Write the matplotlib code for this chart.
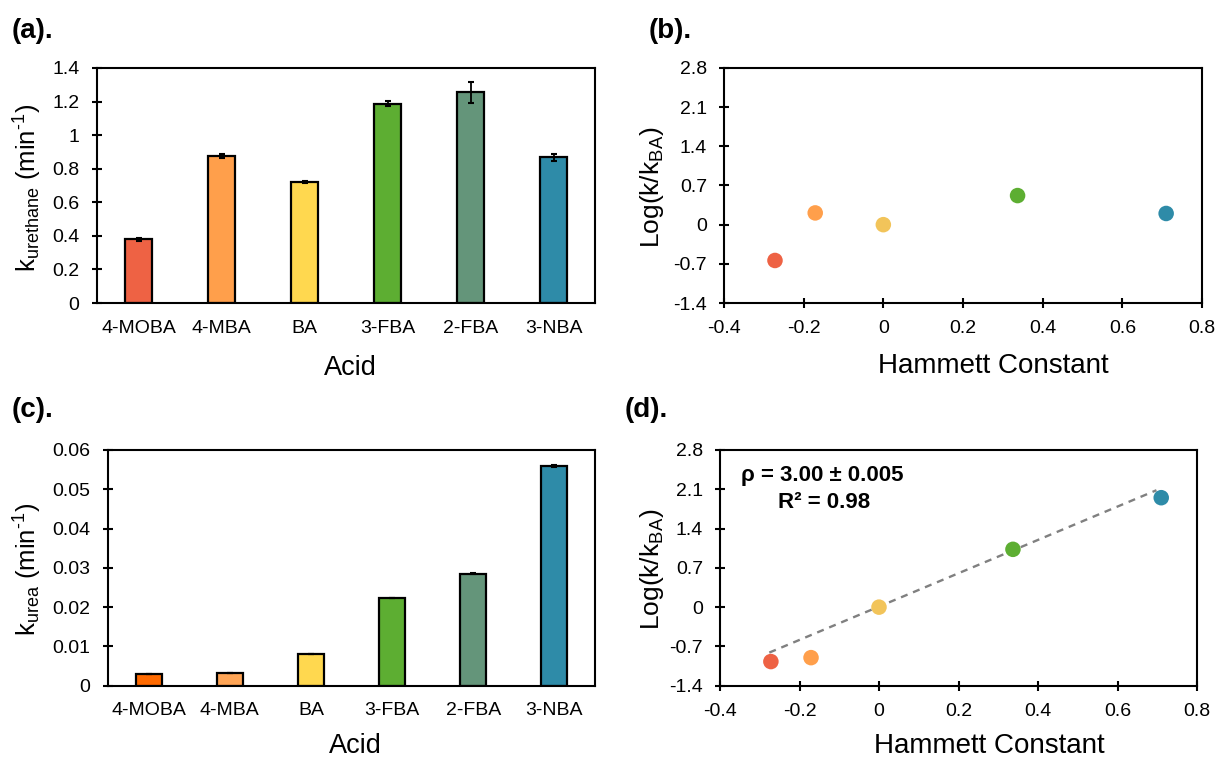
import matplotlib
matplotlib.use("Agg")
import matplotlib.pyplot as plt
import numpy as np

plt.rcParams['font.family'] = ['Liberation Sans', 'DejaVu Sans']
plt.rcParams['mathtext.fontset'] = 'custom'
plt.rcParams['mathtext.rm'] = 'Liberation Sans'
plt.rcParams['mathtext.it'] = 'Liberation Sans:italic'
plt.rcParams['mathtext.bf'] = 'Liberation Sans:bold'

# ---------------- data ----------------
acids = ["4-MOBA", "4-MBA", "BA", "3-FBA", "2-FBA", "3-NBA"]
k_urethane = [0.379, 0.877, 0.720, 1.188, 1.255, 0.867]
k_urethane_err = [0.010, 0.012, 0.005, 0.015, 0.062, 0.020]
k_urea = [0.0030, 0.0032, 0.0080, 0.0222, 0.0285, 0.0559]
k_urea_err = [0.0, 0.0, 0.0, 0.0, 0.0002, 0.0002]

colors_a = ["#EE6244", "#FF9F4B", "#FFD84F", "#5DAE32", "#64957A", "#2E8BA8"]
colors_c = ["#FF6A00", "#FFA556", "#FFD84F", "#5DAE32", "#64957A", "#2E8BA8"]

hammett = [-0.272, -0.171, 0.0, 0.337, 0.710]
log_urethane = [-0.64, 0.21, 0.0, 0.52, 0.20]
log_urea = [-0.97, -0.90, 0.0, 1.03, 1.95]
scatter_colors = ["#EE6244", "#FF9F4B", "#F2C45A", "#5DAE32", "#2E8BA8"]

fit_slope = 2.97
fit_intercept = 0.01
fit_x = [-0.276, 0.698]

W, H = 1217, 760
fig = plt.figure(figsize=(W / 100, H / 100), dpi=100)

TICK = 14
LAB = 19.5


def px_axes(l, r, t, b):
    return fig.add_axes([l / W, 1 - b / H, (r - l) / W, (b - t) / H])


def style(ax):
    for s in ax.spines.values():
        s.set_linewidth(1.5)
        s.set_color("black")
    ax.tick_params(axis="both", direction="inout", length=7.5, width=1.5,
                   labelsize=TICK, colors="black")


# ---- (a) ----
axa = px_axes(97, 595, 68, 303)
x = np.arange(len(acids))
axa.bar(x, k_urethane, width=0.32, color=colors_a, edgecolor="black", linewidth=1.6,
        yerr=k_urethane_err, error_kw=dict(ecolor="black", elinewidth=1.3, capsize=2.5, capthick=1.5),
        zorder=2)
axa.set_xlim(-0.5, 5.5)
axa.set_ylim(0, 1.4)
axa.set_yticks(np.arange(0, 1.41, 0.2))
axa.set_yticklabels(["0", "0.2", "0.4", "0.6", "0.8", "1", "1.2", "1.4"])
style(axa)
axa.set_xticks(x)
axa.set_xticklabels(acids)
axa.tick_params(axis="x", length=0, pad=12)
axa.tick_params(axis="y", pad=9)

# ---- (c) ----
axc = px_axes(108, 595, 450, 685.5)
axc.bar(x, k_urea, width=0.32, color=colors_c, edgecolor="black", linewidth=1.6,
        yerr=k_urea_err, error_kw=dict(ecolor="black", elinewidth=1.3, capsize=2.5, capthick=1.5),
        zorder=2)
axc.set_xlim(-0.5, 5.5)
axc.set_ylim(0, 0.06)
axc.set_yticks(np.arange(0, 0.0601, 0.01))
axc.set_yticklabels(["0", "0.01", "0.02", "0.03", "0.04", "0.05", "0.06"])
style(axc)
axc.set_xticks(x)
axc.set_xticklabels(acids)
axc.tick_params(axis="x", length=0, pad=12)
axc.tick_params(axis="y", pad=9)

xt = np.arange(-0.4, 0.81, 0.2)
xtl = ["-0.4", "-0.2", "0", "0.2", "0.4", "0.6", "0.8"]
yt = np.arange(-1.4, 2.81, 0.7)
ytl = ["-1.4", "-0.7", "0", "0.7", "1.4", "2.1", "2.8"]

# ---- (b) ----
axb = px_axes(724, 1202, 68, 303)
axb.scatter(hammett, log_urethane, s=125, c=scatter_colors, edgecolors="none", zorder=3)
axb.set_xlim(-0.4, 0.8)
axb.set_ylim(-1.4, 2.8)
axb.set_xticks(xt)
axb.set_xticklabels(xtl)
axb.set_yticks(yt)
axb.set_yticklabels(ytl)
style(axb)
axb.tick_params(axis="x", pad=8.5)
axb.tick_params(axis="y", pad=8.5)

# ---- (d) ----
axd = px_axes(720, 1197, 450, 685.7)
fx = np.array(fit_x)
axd.plot(fx, fit_slope * fx + fit_intercept, linestyle=(0, (3, 2.5)), color="#808080",
         linewidth=1.7, zorder=2)
axd.scatter(hammett, log_urea, s=125, c=scatter_colors, edgecolors="none", zorder=3)
axd.set_xlim(-0.4, 0.8)
axd.set_ylim(-1.4, 2.8)
axd.set_xticks(xt)
axd.set_xticklabels(xtl)
axd.set_yticks(yt)
axd.set_yticklabels(ytl)
style(axd)
axd.tick_params(axis="x", pad=8.5)
axd.tick_params(axis="y", pad=8.5)

fig.text(741 / W, 1 - 476 / H, "ρ = 3.00 ± 0.005", fontsize=16, fontweight="bold",
         ha="left", va="center")
fig.text(778 / W, 1 - 502 / H, "R² = 0.98", fontsize=16, fontweight="bold",
         ha="left", va="center")

# ---- axis labels ----
fig.text(350 / W, 1 - 368 / H, "Acid", fontsize=LAB, ha="center", va="center")
fig.text(355 / W, 1 - 746 / H, "Acid", fontsize=LAB, ha="center", va="center")
fig.text(993 / W, 1 - 366 / H, "Hammett Constant", fontsize=LAB + 0.5, ha="center", va="center")
fig.text(989 / W, 1 - 746 / H, "Hammett Constant", fontsize=LAB + 0.5, ha="center", va="center")

fig.text(28 / W, 1 - 188 / H, "k$_{\\mathrm{urethane}}$ (min$^{\\mathrm{\u20101}}$)", fontsize=18.5,
         rotation=90, ha="center", va="center")
fig.text(28 / W, 1 - 569 / H, "k$_{\\mathrm{urea}}$ (min$^{\\mathrm{\u20101}}$)", fontsize=18.5,
         rotation=90, ha="center", va="center")
fig.text(652 / W, 1 - 187 / H, r"Log(k/k$_{\mathrm{BA}}$)", fontsize=19,
         rotation=90, ha="center", va="center")
fig.text(652 / W, 1 - 569 / H, r"Log(k/k$_{\mathrm{BA}}$)", fontsize=19,
         rotation=90, ha="center", va="center")

# ---- panel labels ----
for (px, py, t) in [(12, 31, "(a)."), (649, 31, "(b)."), (12, 410, "(c)."), (625, 410, "(d).")]:
    fig.text(px / W, 1 - py / H, t, fontsize=20, fontweight="bold", ha="left", va="center")

fig.savefig("out.png", dpi=100)
